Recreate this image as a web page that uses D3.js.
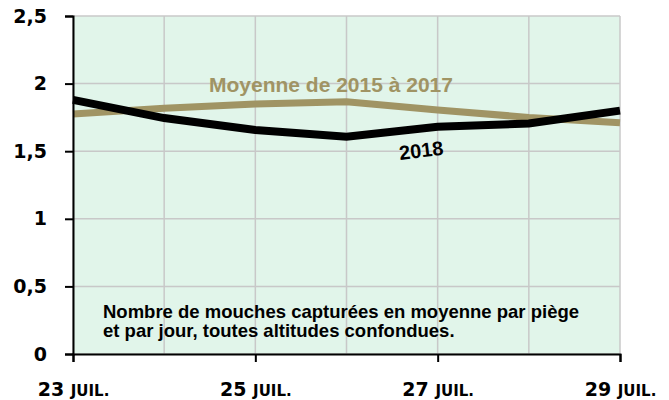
<!DOCTYPE html>
<html>
<head>
<meta charset="utf-8">
<script src="https://cdn.jsdelivr.net/npm/d3@7"></script>
<style>
  body { margin: 0; background: #fff; }
  svg { display: block; }
</style>
</head>
<body>
<svg width="669" height="400"></svg>
<script>
// jours de juillet
var days = [23, 24, 25, 26, 27, 28, 29];
var labelDays = [23, 25, 27, 29];
var values2018 = [1.88, 1.745, 1.657, 1.607, 1.68, 1.705, 1.80];
var valuesMoyenne = [1.775, 1.817, 1.849, 1.866, 1.805, 1.75, 1.71];
var yTicks = [0, 0.5, 1, 1.5, 2, 2.5];

var svg = d3.select("svg"),
    margin = {top: 16, right: 49, bottom: 46, left: 73},
    width = svg.attr("width") - margin.left - margin.right,
    height = svg.attr("height") - margin.top - margin.bottom,
    g = svg.append("g").attr("transform", "translate(" + margin.left + "," + margin.top + ")");

var xScale = d3.scaleLinear().domain([23, 29]).range([0, width]),
    yScale = d3.scaleLinear().domain([0, 2.5]).range([height, 0]);

// fond
g.append("rect")
    .attr("width", width)
    .attr("height", height)
    .attr("fill", "#e1f5ea");

// grille
g.selectAll(".hgrid")
    .data(yTicks)
    .enter().append("line")
    .attr("x1", 0).attr("x2", width)
    .attr("y1", function (d) { return yScale(d); })
    .attr("y2", function (d) { return yScale(d); })
    .attr("stroke", "#c8c8c8")
    .attr("stroke-width", 1.5);

g.selectAll(".vgrid")
    .data(days)
    .enter().append("line")
    .attr("y1", 0).attr("y2", height)
    .attr("x1", function (d) { return xScale(d); })
    .attr("x2", function (d) { return xScale(d); })
    .attr("stroke", "#c8c8c8")
    .attr("stroke-width", 1.5);

var line = d3.line()
    .x(function (d, i) { return xScale(days[i]); })
    .y(function (d) { return yScale(d); });

g.append("path")
    .attr("d", line(valuesMoyenne))
    .attr("fill", "none")
    .attr("stroke", "#a09464")
    .attr("stroke-width", 7);

g.append("path")
    .attr("d", line(values2018))
    .attr("fill", "none")
    .attr("stroke", "#000")
    .attr("stroke-width", 8);

// axes
var yAxis = d3.axisLeft(yScale)
    .tickValues(yTicks)
    .tickSize(8)
    .tickPadding(18)
    .tickFormat(function (d) { return String(d).replace(".", ","); });

var gY = g.append("g").call(yAxis);
gY.select(".domain").attr("stroke", "#000").attr("stroke-width", 2);
gY.selectAll(".tick line").attr("stroke", "#000").attr("stroke-width", 2);
gY.selectAll(".tick text")
    .attr("fill", "#000")
    .style("font", "bold 19px 'DejaVu Sans'");

var xAxis = d3.axisBottom(xScale)
    .tickValues(labelDays)
    .tickSize(8)
    .tickPadding(20)
    .tickFormat("");

var gX = g.append("g")
    .attr("transform", "translate(0," + height + ")")
    .call(xAxis);
gX.select(".domain").attr("stroke", "#000").attr("stroke-width", 2);
gX.selectAll(".tick line").attr("stroke", "#000").attr("stroke-width", 2);

var lab = gX.selectAll(".tick text")
    .attr("fill", "#000")
    .attr("y", 42)
    .attr("dy", 0)
    .style("font", "bold 19px 'DejaVu Sans'");
lab.append("tspan").text(function (d) { return d + " "; });
lab.append("tspan").style("font-size", "15px").text("JUIL.");

// étiquettes des courbes
g.append("text")
    .attr("x", 136)
    .attr("y", 76)
    .attr("fill", "#a09464")
    .style("font", "bold 21px 'Liberation Sans'")
    .text("Moyenne de 2015 à 2017");

g.append("text")
    .attr("transform", "translate(327,144) rotate(-7)")
    .attr("fill", "#000")
    .style("font", "bold 20px 'Liberation Sans'")
    .text("2018");

var note = g.append("text")
    .attr("fill", "#000")
    .style("font", "bold 18.5px 'Liberation Sans'");
note.append("tspan")
    .attr("x", 30).attr("y", 302)
    .text("Nombre de mouches capturées en moyenne par piège");
note.append("tspan")
    .attr("x", 30).attr("y", 321)
    .text("et par jour, toutes altitudes confondues.");
</script>
</body>
</html>
